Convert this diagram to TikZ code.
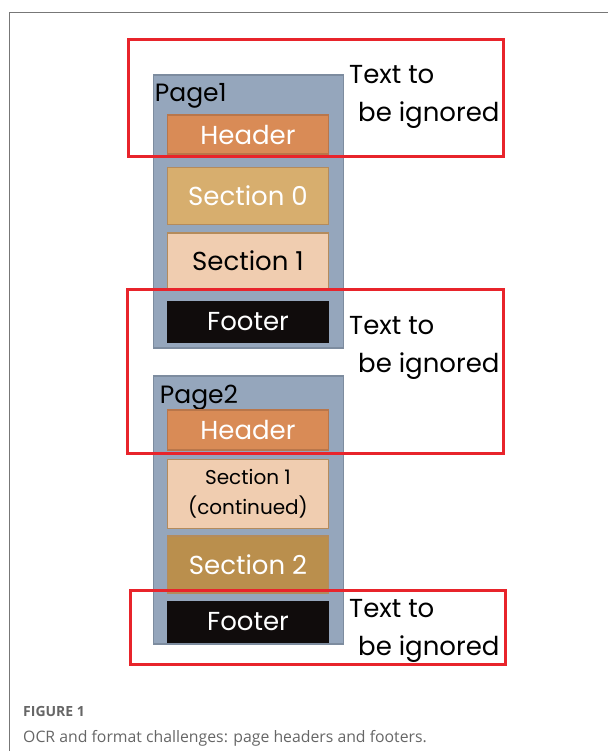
\documentclass[tikz,border=0pt]{standalone}
\usepackage{fontspec}
\setmainfont{Poppins}
\newfontfamily\capfont{Open Sans}
\usetikzlibrary{positioning}
\definecolor{pagegray}{HTML}{95A6BC}
\definecolor{pageedge}{HTML}{7D8C9F}
\definecolor{headcol}{HTML}{D98B56}
\definecolor{headedge}{HTML}{B9764A}
\definecolor{seczero}{HTML}{D7AE6E}
\definecolor{seconecol}{HTML}{F0CDB0}
\definecolor{sectwo}{HTML}{BA8F4D}
\definecolor{secedge}{HTML}{B48B5C}
\definecolor{footcol}{HTML}{100C0C}
\definecolor{ignorered}{HTML}{E8242B}
\definecolor{framegray}{HTML}{777777}
\definecolor{capgray}{HTML}{666666}

\begin{document}
\begin{tikzpicture}
[x=1pt, y=-1pt,
% STYLES
% The page style draws the gray sheet behind the blocks
page/.style={rectangle, draw=pageedge, line width=1.5pt, fill=pagegray, minimum width=190pt, inner sep=0pt},
% The block style is used for headers, sections and footers
block/.style={rectangle, line width=1.5pt, minimum width=161pt, inner sep=0pt, text=white, font=\fontsize{26}{30}\selectfont},
pagelabel/.style={inner sep=0pt, font=\fontsize{25}{28}\selectfont},
% The ignore style marks the region whose text is dropped
ignorebox/.style={rectangle, draw=ignorered, line width=3pt, inner sep=0pt},
ignoretext/.style={inner sep=0pt, align=left, font=\fontsize{26}{38}\selectfont},
caption/.style={inner sep=0pt, text=capgray}]
\useasboundingbox (0,0) rectangle (608,751);
% frame of the figure
\draw[framegray, line width=1pt] (9,751) -- (9,13) -- (608,13);
% Draw pages
\node [page, minimum height=273pt] (page1) at (248.5,211.5) {};
\node [page, minimum height=268pt] (page2) at (248.5,510) {};
\node [pagelabel, anchor=base west] (label1) at ([xshift=2pt, yshift=-27pt]page1.north west) {Page1};
\node [pagelabel, anchor=base west] (label2) at ([xshift=7pt, yshift=-28pt]page2.north west) {Page2};
% page 1
\node [block, fill=headcol, draw=headedge, minimum height=39pt] (head1) at (248,134.5) {Header};
\node [block, fill=seczero, draw=secedge, minimum height=57pt, below=12pt of head1] (sec0) {Section 0};
\node [block, fill=seconecol, draw=secedge, minimum height=56pt, text=black, below=7pt of sec0] (sec1) {Section 1};
\node [block, fill=footcol, draw=footcol, minimum height=41pt, below=11pt of sec1] (foot1) {Footer};
% page 2
\node [block, fill=headcol, draw=headedge, minimum height=40pt] (head2) at (248,430) {Header};
\node [block, fill=seconecol, draw=secedge, minimum height=69pt, text=black, align=center,
  font=\fontsize{20}{30}\selectfont, below=8pt of head2] (sec1c) {Section 1\\(continued)};
\node [block, fill=sectwo, draw=secedge, minimum height=57pt, below=6pt of sec1c] (sec2) {Section 2};
\node [block, fill=footcol, draw=footcol, minimum height=41pt, below=7pt of sec2] (foot2) {Footer};
%%%%%%%%%%%%%%%%
% regions to be ignored (text anchored on its last line)
\node [ignorebox, minimum width=375pt, minimum height=117pt] (ign1) at (315.5,98.5) {};
\node [ignorebox, minimum width=376pt, minimum height=164pt] (ign2) at (315,371) {};
\node [ignorebox, minimum width=375pt, minimum height=74pt] (ign3) at (317.5,627) {};
\node [ignoretext, anchor=base west] (txt1) at (349,122) {Text to\\\hspace*{9pt}be ignored};
\node [ignoretext, anchor=base west] (txt2) at (349,372) {Text to\\\hspace*{9pt}be ignored};
\node [ignoretext, anchor=base west] (txt3) at (349,655) {Text to\\\hspace*{9pt}be ignored};
% caption
\node [caption, anchor=base west, font=\capfont\bfseries\fontsize{14}{16}\selectfont] (capnum) at (23,716) {FIGURE 1};
\node [caption, anchor=base west, font=\capfont\fontsize{15.8}{18}\selectfont] (captext) at (23,742) {OCR and format challenges: page headers and footers.};
\end{tikzpicture}
\end{document}
